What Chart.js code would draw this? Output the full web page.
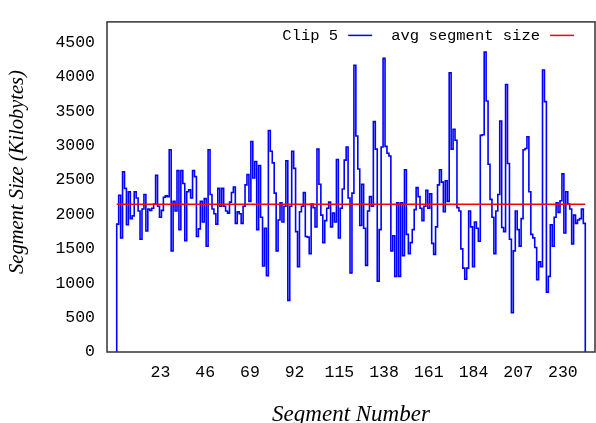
<!DOCTYPE html>
<html>
<head>
<meta charset="utf-8">
<script src="https://cdn.jsdelivr.net/npm/chart.js@4.4.1/dist/chart.umd.min.js"></script>
<style>
  html, body { margin: 0; padding: 0; background: #fff; }
  #chart { display: block; }
</style>
</head>
<body>
<canvas id="chart" width="596" height="423"></canvas>
<script>
'use strict';

// segment sizes in KB, segments 1..241
const SIZES = [
    1860, 2280, 1660, 2620, 2380, 1850, 2330, 1940, 1980, 2330,
    2240, 2050, 1640, 2080, 2290, 1760, 2080, 2060, 2090, 2150,
    2570, 2120, 1960, 2060, 2250, 2270, 2260, 2940, 1470, 2190,
    2050, 2640, 1780, 2640, 2450, 1620, 2330, 2360, 2240, 2640,
    2550, 1680, 1790, 2190, 1890, 2230, 1540, 2940, 2290, 2080,
    2010, 1860, 2380, 2120, 2380, 2120, 2050, 2020, 2180, 2320,
    2400, 1870, 2040, 2010, 1870, 2120, 2430, 2580, 2190, 3060,
    2530, 2770, 1780, 2710, 1960, 1250, 1800, 1110, 3220, 2920,
    2750, 2310, 1470, 1920, 2170, 1890, 2120, 2780, 750, 2120,
    2920, 2670, 1750, 1240, 2040, 2120, 2320, 1680, 1670, 1430,
    2150, 2100, 1820, 2950, 2440, 1990, 1590, 1910, 2090, 2180,
    1820, 2020, 1890, 2800, 1660, 2090, 2370, 2790, 2980, 2240,
    1150, 2310, 4170, 3140, 2660, 1840, 2440, 1800, 1260, 2050,
    2260, 2120, 3350, 2950, 1030, 1780, 2980, 4270, 2990, 2890,
    2850, 1470, 1690, 1100, 2170, 1100, 2170, 1400, 2650, 1710,
    1430, 1590, 1780, 2070, 2390, 2260, 2090, 1910, 2120, 2350,
    2090, 2300, 1580, 1420, 1820, 2430, 2650, 2470, 2040, 2490,
    2190, 4060, 2950, 3240, 3080, 2100, 2050, 1500, 1220, 1060,
    1220, 2050, 1820, 1240, 1890, 1800, 1610, 3150, 3160, 4360,
    3650, 2730, 2220, 1960, 1430, 2050, 2290, 3360, 1810, 1750,
    3890, 2740, 1640, 570, 1470, 2050, 1780, 1540, 1940, 2940,
    2960, 3130, 2330, 1710, 1660, 1520, 1050, 1310, 1240, 4100,
    3640, 870, 1100, 1850, 1540, 1960, 2170, 2030, 2200, 2590,
    1730, 2330, 2150, 2080, 1570, 1990, 1870, 1920, 1940, 2080,
    1870
];
const AVG_SIZE = 2150;

const X_TICKS = [23, 46, 69, 92, 115, 138, 161, 184, 207, 230];
const Y_TICKS = [0, 500, 1000, 1500, 2000, 2500, 3000, 3500, 4000, 4500];

const SERIES_LABEL = 'Clip 5';
const AVG_LABEL = 'avg segment size';
const X_TITLE = 'Segment Number';
const Y_TITLE = 'Segment Size (Kilobytes)';

/**
 * gnuplot-style histeps: value n covers [n - 0.5, n + 0.5],
 * closed down to zero at both ends
 */
function histSteps(values) {
    const pts = [{x: 0.5, y: 0}];

    values.forEach(function (v, i) {
        pts.push({x: i + 0.5, y: v});
    });
    pts.push({x: values.length + 0.5, y: 0});

    return pts;
}

// frame round the plot area, the key in its top right corner, y title
const gnuplotLook = {
    id: 'gnuplotLook',
    afterDatasetsDraw: function (chart) {
        const a = chart.chartArea,
            ctx = chart.ctx;

        ctx.save();
        ctx.strokeStyle = '#333';
        ctx.lineWidth = 1.5;
        ctx.strokeRect(a.left, a.top, a.right - a.left, a.bottom - a.top);
        ctx.restore();
    },
    afterDraw: function (chart) {
        const a = chart.chartArea,
            ctx = chart.ctx,
            entries = chart.data.datasets.slice().reverse();
        let x = a.right - 21;

        ctx.save();
        ctx.font = '15.5px "Liberation Mono", monospace';
        ctx.fillStyle = '#000';
        ctx.textAlign = 'right';
        ctx.textBaseline = 'alphabetic';

        entries.forEach(function (ds) {
            ctx.strokeStyle = ds.borderColor;
            ctx.lineWidth = 1.5;
            ctx.beginPath();
            ctx.moveTo(x - 24, a.top + 13.5);
            ctx.lineTo(x, a.top + 13.5);
            ctx.stroke();
            x -= 34;
            ctx.fillText(ds.label, x, a.top + 18.5);
            x -= ctx.measureText(ds.label).width + 19;
        });

        // gnuplot puts the y label a little above the middle of the axis
        ctx.translate(18, 172);
        ctx.rotate(-Math.PI / 2);
        ctx.font = 'italic 20.5px "Liberation Serif", serif';
        ctx.textAlign = 'center';
        ctx.textBaseline = 'middle';
        ctx.fillText(Y_TITLE, 0, 0);
        ctx.restore();
    }
};

Chart.defaults.font.family = '"Liberation Mono", monospace';
Chart.defaults.color = '#000';

new Chart(document.getElementById('chart'), {
    type: 'line',
    data: {
        datasets: [{
            label: SERIES_LABEL,
            data: histSteps(SIZES),
            stepped: 'before',
            borderColor: '#0000ff',
            borderWidth: 1.6,
            pointRadius: 0,
            fill: false,
            order: 1
        }, {
            label: AVG_LABEL,
            data: [{x: 0.5, y: AVG_SIZE}, {x: SIZES.length + 0.5, y: AVG_SIZE}],
            borderColor: '#ff0000',
            borderWidth: 1.5,
            pointRadius: 0,
            fill: false,
            order: 0
        }]
    },
    options: {
        responsive: false,
        animation: false,
        devicePixelRatio: 1,
        layout: {
            padding: {top: 10, right: 1, bottom: 0, left: 0}
        },
        plugins: {
            legend: {display: false},
            tooltip: {enabled: false}
        },
        scales: {
            x: {
                type: 'linear',
                min: -4.5,
                max: 246.5,
                afterBuildTicks: function (scale) {
                    scale.ticks = X_TICKS.map(function (v) { return {value: v}; });
                },
                afterFit: function (scale) {
                    scale.height = 71;
                },
                grid: {display: false, drawTicks: false},
                border: {display: false},
                ticks: {
                    autoSkip: false,
                    maxRotation: 0,
                    padding: 11,
                    font: {size: 16.5},
                    callback: function (v) { return String(v); }
                },
                title: {
                    display: true,
                    text: X_TITLE,
                    font: {family: '"Liberation Serif", serif', style: 'italic', size: 23, lineHeight: 1},
                    padding: {top: 0, bottom: -3}
                }
            },
            y: {
                min: 0,
                max: 4800,
                afterBuildTicks: function (scale) {
                    scale.ticks = Y_TICKS.map(function (v) { return {value: v}; });
                },
                afterFit: function (scale) {
                    scale.width = 107;
                },
                grid: {display: false, drawTicks: false},
                border: {display: false},
                ticks: {
                    padding: 12,
                    font: {size: 16.5},
                    callback: function (v) { return String(v); }
                }
            }
        }
    },
    plugins: [gnuplotLook]
});
</script>
</body>
</html>
